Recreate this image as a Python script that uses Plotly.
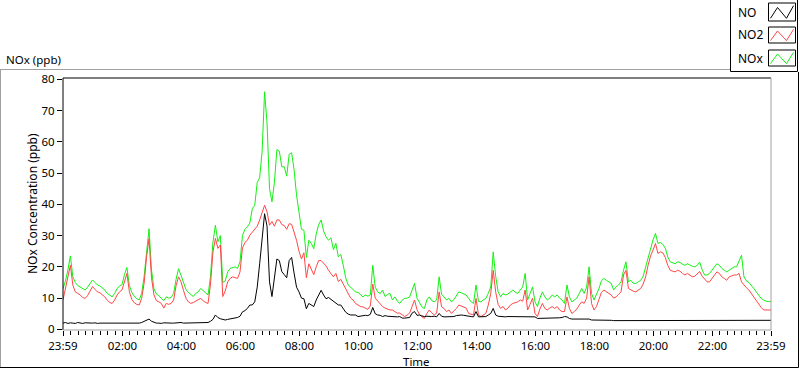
import plotly.graph_objects as go

# ---- data (5-minute samples, minutes after 23:59) ----
minutes = list(range(0, 1441, 5))

nox = [
 13, 15.5, 19, 23.5, 16.8, 15, 14, 13.5, 13, 12.6, 13.5, 14.5,
 15.8, 15, 14.2, 13.9, 13.2, 12.6, 11.5, 10.8, 10.4, 11.5, 13, 13.9,
 14.3, 17.5, 19.8, 14, 11.8, 10.6, 9.8, 9.4, 11.5, 17, 25.3, 32.2,
 19, 13, 11.3, 10.8, 9.9, 9.2, 10.4, 10, 10.2, 11.5, 16, 19.4,
 17.3, 15, 12.8, 11.8, 11, 10.5, 11.5, 12, 13.1, 12.3, 11.6, 11,
 17, 28, 33.3, 28, 30, 15, 15.5, 18.4, 19.5, 19.8, 20, 19.5,
 21.6, 30, 32, 32.8, 34, 38.6, 39.7, 47, 48.5, 57, 76, 66,
 45, 40.8, 47, 57.5, 57, 52, 52, 49, 56, 56.5, 51, 43,
 38, 32, 31.7, 23, 28.5, 27.5, 25.8, 30.5, 33.5, 35, 31.5, 29.6,
 28.5, 29.3, 25.5, 27.5, 23.2, 24, 20.5, 16.5, 14.2, 13.5, 13, 12,
 11.8, 11, 10.4, 11, 10.6, 11, 20.5, 13.5, 12, 11.4, 12.6, 10.5,
 11.2, 11.5, 9.4, 10.4, 9, 8.3, 9.4, 9.9, 10, 10.4, 12.6, 14.7,
 10, 8.5, 7.2, 6.7, 9.4, 10.4, 9.2, 8.8, 9.4, 16.8, 11.2, 10.4,
 9.4, 9.9, 8.8, 9.5, 11, 12, 11.7, 11.3, 11, 9.9, 8.8, 8.3,
 14.2, 9, 8.8, 9.5, 9.9, 11.5, 13.6, 24.8, 17, 12, 10.4, 11.5,
 11, 11.3, 12, 12.6, 11.8, 11.5, 12.6, 13.6, 17.9, 9.4, 11.5, 13.6,
 8.8, 7.3, 10, 12, 10.4, 9.4, 10, 11, 10.4, 11, 10, 9.4,
 8.3, 14.2, 10.4, 8.8, 9.4, 10, 11.5, 13.1, 11.5, 13.5, 20, 11.5,
 9.4, 11, 13, 15.5, 16.3, 15.7, 15.2, 14.7, 12.6, 13.6, 14.2, 15.2,
 18.9, 21.6, 15.2, 15.7, 14.7, 14.7, 15.2, 15.7, 17, 20, 23.5, 26.5,
 28.6, 30.7, 27.5, 27.8, 27.2, 26, 23.2, 21.6, 21.2, 21, 21.6, 21.4,
 20.8, 20.5, 21, 20.5, 20.2, 20, 20.5, 21.5, 19, 17.4, 17.4, 17.9,
 18.9, 20, 21, 20.5, 19.5, 18.9, 18.4, 18.9, 19.5, 20, 20, 22.1,
 23.7, 16.8, 15.5, 15, 14.2, 13.1, 12, 11, 9.9, 9.4, 9.0, 8.9,
 8.9,
]

no2 = [
 9.4, 13, 16.5, 20.5, 14.2, 12, 11.5, 11, 10.2, 9.9, 10.8, 12.5,
 13.7, 12.8, 12, 11.7, 11, 10.4, 9.3, 8.6, 8.3, 9.4, 11, 12,
 12.6, 15.5, 17.9, 12, 9.6, 8.5, 8.0, 7.8, 9.9, 14.8, 23.2, 29,
 16.5, 11, 9.2, 8.8, 8.3, 6.8, 8.3, 8, 8.3, 9.4, 14, 16.8,
 15.2, 12.5, 10, 8.8, 8.3, 8.6, 9.0, 9.4, 9.9, 9.2, 8.6, 8.3,
 14.5, 24.8, 29.1, 25.9, 27, 10.5, 12.3, 15.2, 16.3, 16.8, 16.6, 16.3,
 18.4, 26, 27.8, 28.5, 30.1, 31.2, 32.3, 33, 35, 37.5, 39.7, 37.6,
 33.3, 34.5, 33, 35, 35, 33.5, 33.2, 32, 33.8, 33.6, 31, 28.5,
 25, 22.5, 24.5, 16.5, 21, 19, 17.5, 20, 22, 22, 21, 20.3,
 18.9, 17.9, 16.8, 17.9, 15.3, 16, 14.5, 12.9, 11.2, 10, 9.4, 8.3,
 7.8, 7.3, 7.2, 6.8, 6.4, 7.5, 14.5, 10, 9, 8.3, 7.3, 6.8,
 6.5, 6.2, 6.2, 5.6, 5.2, 5.2, 4.6, 4.1, 4.6, 5.2, 7.3, 9.4,
 6.3, 4.8, 4.0, 3.5, 5.1, 6.2, 5.3, 4.6, 5.2, 12, 7.2, 6.7,
 5.7, 6.2, 5.1, 5.8, 6.7, 7.8, 7.5, 7.3, 6.8, 5.1, 4.8, 4.6,
 9.9, 4.6, 4.1, 4.6, 5.1, 7.8, 11.5, 18.9, 12, 8, 6.7, 7.3,
 6.2, 6.8, 7.8, 8.3, 8.6, 8.8, 9.4, 9, 12.6, 6.2, 8, 10,
 5.1, 4.1, 6.5, 8.3, 6.7, 6.2, 6.8, 7.3, 6.7, 7.3, 6.2, 5.7,
 5.7, 10.4, 6.7, 5.1, 5.7, 6.5, 7.8, 8.8, 8.3, 10, 16.8, 8.3,
 6.2, 7.3, 9.5, 11.8, 12.6, 12, 11.5, 11, 10, 10.4, 11.2, 12,
 17.4, 18.9, 13.1, 12.6, 12.2, 12, 12.6, 13.1, 14.5, 16.8, 20.5, 23.5,
 25.3, 27.5, 24.3, 24.8, 24.5, 23, 20.5, 18.9, 18.6, 18.4, 18.9, 18.6,
 17.9, 17.4, 17.9, 17.2, 16.8, 17, 17.9, 18.5, 17, 16, 15.2, 15.2,
 16.3, 17.4, 18.4, 17.9, 16.8, 16.3, 15.7, 16.8, 17.2, 17.4, 17.4, 17.9,
 15.2, 14.2, 13.3, 12.6, 11.5, 10.4, 9, 7.8, 7.0, 6.2, 6.2, 6.2,
 6.2,
]

no = [
 2.0, 2.2, 1.9, 2.1, 2.0, 1.9, 2.2, 2.0, 1.9, 2.1, 2.0, 1.9,
 2.0, 2.1, 1.9, 2.0, 2.0, 1.9, 2.1, 2.0, 1.9, 2.0, 2.1, 2.0,
 2.0, 2.0, 2.1, 1.9, 2.0, 2.0, 1.9, 2.0, 2.2, 2.5, 2.9, 3.3,
 2.6, 2.2, 2.0, 2.0, 1.9, 2.1, 2.0, 1.9, 2.0, 2.0, 2.1, 2.3,
 2.2, 2.0, 2.0, 2.1, 2.0, 2.0, 2.1, 2.0, 2.2, 2.1, 2.1, 2.2,
 2.6, 3.2, 4.6, 3.8, 3.4, 3.2, 3.0, 3.2, 3.3, 3.5, 3.6, 3.8,
 4.2, 5.6, 6.0, 6.7, 7.8, 7.8, 8.8, 13.5, 21, 29, 37, 33,
 15.2, 10.5, 16, 22.5, 22, 18.5, 17.5, 16.5, 22, 23, 18, 13.5,
 12, 10, 9.8, 6.6, 8.3, 7.8, 7.3, 9.4, 11, 12.5, 11, 9.8,
 10.2, 9.6, 9.0, 8.5, 7.8, 7.8, 6.8, 5.5, 4.9, 4.6, 4.6, 4.6,
 4.1, 4.3, 4.5, 4.5, 4.4, 4.8, 7.0, 5.0, 4.6, 4.5, 4.1, 4.4,
 4.2, 4.1, 4.1, 4.0, 4.0, 4.1, 3.6, 3.6, 3.6, 3.8, 5.2, 5.7,
 4.5, 4.6, 4.3, 4.1, 4.2, 4.1, 4.1, 4.2, 4.0, 5.1, 4.2, 4.0,
 4.0, 4.0, 4.0, 4.1, 4.4, 4.6, 4.6, 4.5, 4.3, 4.1, 4.1, 4.0,
 5.7, 4.0, 4.0, 4.1, 4.1, 4.6, 5.1, 6.7, 4.6, 4.2, 4.1, 4.0,
 4.0, 4.1, 4.1, 4.1, 4.0, 4.0, 4.1, 4.0, 4.1, 4.0, 4.0, 4.1,
 4.0, 3.5, 3.5, 3.5, 3.5, 3.5, 3.5, 3.5, 3.5, 3.5, 3.7, 3.8,
 4.1, 4.0, 3.5, 3.3, 3.3, 3.3, 3.3, 3.4, 3.4, 3.3, 3.3, 3.0,
 3.0, 3.0, 3.1, 3.0, 3.0, 3.0, 3.0, 2.9, 2.8, 2.8, 2.8, 2.8,
 2.8, 2.8, 2.8, 2.8, 2.9, 2.8, 2.8, 2.8, 2.9, 3.0, 3.0, 3.0,
 3.0, 3.0, 3.0, 3.0, 3.0, 3.0, 2.9, 2.9, 2.9, 2.9, 3.0, 2.9,
 2.9, 3.0, 2.9, 2.9, 2.9, 3.0, 3.0, 3.0, 3.0, 2.9, 2.9, 2.9,
 2.9, 3.0, 2.9, 2.9, 3.0, 2.9, 2.9, 2.9, 3.0, 2.9, 2.9, 2.9,
 3.0, 2.9, 2.9, 2.9, 2.9, 2.9, 2.9, 2.9, 2.9, 3.0, 2.9, 2.9,
 2.9,
]

tick_minutes = [0, 121, 241, 361, 481, 601, 721, 841, 961, 1081, 1201, 1321, 1440]
tick_labels = ["23:59", "02:00", "04:00", "06:00", "08:00", "10:00", "12:00",
               "14:00", "16:00", "18:00", "20:00", "22:00", "23:59"]
minor_tick_minutes = [m for m in range(1, 1440, 15) if m not in tick_minutes]
y_ticks = [0, 10, 20, 30, 40, 50, 60, 70, 80]

series_names = ["NO", "NO2", "NOx"]
series_colors = ["#000000", "#ff4646", "#14f014"]

FONT = "Noto Sans"
W, H = 800, 369
ML, MR, MT, MB = 63, 29, 78, 39
PW, PH = W - ML - MR, H - MT - MB


def px(x):
    return (x - ML) / PW


def py(y):
    return (H - MB - y) / PH


fig = go.Figure()
fig.add_trace(go.Scatter(x=minutes, y=nox, mode="lines", name="NOx",
                         line=dict(color=series_colors[2], width=1), showlegend=False))
fig.add_trace(go.Scatter(x=minutes, y=no2, mode="lines", name="NO2",
                         line=dict(color=series_colors[1], width=1), showlegend=False))
fig.add_trace(go.Scatter(x=minutes, y=no, mode="lines", name="NO",
                         line=dict(color=series_colors[0], width=1), showlegend=False))

shapes = []
# plot-area frame: dark top/left, light right/bottom
shapes.append(dict(type="line", xref="paper", yref="paper", x0=0, x1=0, y0=0, y1=1,
                   line=dict(color="#000000", width=1)))
shapes.append(dict(type="line", xref="paper", yref="paper", x0=0, x1=1, y0=1, y1=1,
                   line=dict(color="#000000", width=1)))
shapes.append(dict(type="line", xref="paper", yref="paper", x0=1, x1=1, y0=0, y1=1,
                   line=dict(color="#a0a0a0", width=1)))
shapes.append(dict(type="line", xref="paper", yref="paper", x0=0, x1=1, y0=0, y1=0,
                   line=dict(color="#a0a0a0", width=1)))
# outer panel frame
shapes.append(dict(type="line", xref="paper", yref="paper", x0=px(0), x1=px(730), y0=py(69.5), y1=py(69.5),
                   line=dict(color="#a0a0a0", width=1)))
shapes.append(dict(type="line", xref="paper", yref="paper", x0=px(0.5), x1=px(0.5), y0=py(69.5), y1=py(368),
                   line=dict(color="#a0a0a0", width=1)))
shapes.append(dict(type="line", xref="paper", yref="paper", x0=px(0), x1=px(798.5), y0=py(367.5), y1=py(367.5),
                   line=dict(color="#000000", width=1)))
shapes.append(dict(type="line", xref="paper", yref="paper", x0=px(798.5), x1=px(798.5), y0=py(72), y1=py(367.5),
                   line=dict(color="#000000", width=1)))
# legend panel
shapes.append(dict(type="path", xref="paper", yref="paper",
                   path=f"M {px(730.5)} {py(-1)} L {px(730.5)} {py(71.5)} L {px(797.5)} {py(71.5)} L {px(797.5)} {py(-1)}",
                   line=dict(color="#000000", width=1)))

annotations = []
box_tops = [3, 27, 50]
box_bottoms = [21, 43, 66]
for name, color, top, bot in zip(series_names, series_colors, box_tops, box_bottoms):
    x0, x1 = 768.5, 795.5
    shapes.append(dict(type="rect", xref="paper", yref="paper",
                       x0=px(x0), x1=px(x1), y0=py(bot), y1=py(top),
                       line=dict(color="#000000", width=1), fillcolor="white"))
    h = bot - top
    pts = [(x0 + 2, bot - 0.15 * h), (x0 + 9, top + 0.25 * h), (x0 + 18, bot - 0.15 * h), (x1 - 2, top + 0.15 * h)]
    path = "M " + " L ".join(f"{px(a)} {py(b)}" for a, b in pts)
    shapes.append(dict(type="path", xref="paper", yref="paper", path=path,
                       line=dict(color=color, width=1)))
    annotations.append(dict(xref="paper", yref="paper", x=px(736), y=py((top + bot) / 2),
                            text=name, showarrow=False, xanchor="left", yanchor="middle",
                            font=dict(family=FONT, size=12, color="#000000")))

annotations.append(dict(xref="paper", yref="paper", x=px(4), y=py(59), text="NOx (ppb)",
                        showarrow=False, xanchor="left", yanchor="middle",
                        font=dict(family=FONT, size=11.5, color="#000000")))
annotations.append(dict(xref="paper", yref="paper", x=px(32), y=py(204), text="NOx Concentration (ppb)",
                        showarrow=False, xanchor="center", yanchor="middle", textangle=-90,
                        font=dict(family=FONT, size=12, color="#000000")))
annotations.append(dict(xref="paper", yref="paper", x=px(416), y=py(361), text="Time",
                        showarrow=False, xanchor="center", yanchor="middle",
                        font=dict(family=FONT, size=11.5, color="#000000")))

fig.update_layout(
    width=W, height=H,
    margin=dict(l=ML, r=MR, t=MT, b=MB, pad=0),
    paper_bgcolor="white", plot_bgcolor="white",
    showlegend=False,
    font=dict(family=FONT, size=11.5, color="#000000"),
    xaxis=dict(range=[0, 1440], tickmode="array", tickvals=tick_minutes, ticktext=tick_labels,
               ticks="outside", ticklen=5, tickcolor="#000000", tickwidth=1,
               showgrid=False, zeroline=False, showline=False,
               minor=dict(tickmode="array", tickvals=minor_tick_minutes, ticks="outside", ticklen=4,
                          tickcolor="#000000", tickwidth=1, showgrid=False)),
    yaxis=dict(range=[-0.2, 80.4], tickmode="array", tickvals=y_ticks,
               ticks="outside", ticklen=5, tickcolor="#000000", tickwidth=1,
               showgrid=False, zeroline=False, showline=False),
    shapes=shapes,
    annotations=annotations,
)

fig.write_html("out.html", config={"displayModeBar": False},
               post_script="document.body.style.margin='0px';document.body.style.padding='0px';")
